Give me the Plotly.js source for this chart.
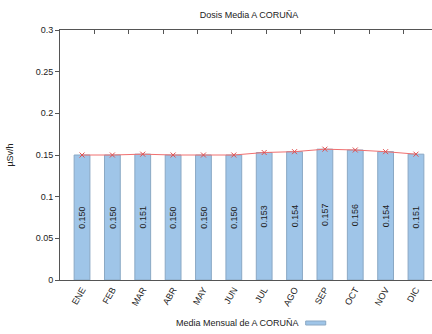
<!DOCTYPE html>
<html>
<head>
<meta charset="utf-8">
<script src="https://cdn.plot.ly/plotly-3.0.1.min.js"></script>
<style>
html,body{margin:0;padding:0;overflow:hidden;background:#fff;}
#chart{width:448px;height:334px;}
</style>
</head>
<body>
<div id="chart"></div>
<script>
var months = ['ENE','FEB','MAR','ABR','MAY','JUN','JUL','AGO','SEP','OCT','NOV','DIC'];
var values = [0.150,0.150,0.151,0.150,0.150,0.150,0.153,0.154,0.157,0.156,0.154,0.151];
var labels = values.map(function(v){return v.toFixed(3);});
var seriesName = 'Media Mensual de A CORUÑA';
var chartTitle = 'Dosis Media A CORUÑA';
var yTitle = 'µSv/h';
var yTicks = [0,0.05,0.1,0.15,0.2,0.25,0.3];
var yTickText = ['0','0.05','0.1','0.15','0.2','0.25','0.3'];

var font = 'Liberation Sans, Arial, sans-serif';

var bars = {
  type:'bar', x:months, y:values, text:labels,
  textposition:'inside', insidetextanchor:'middle', textangle:-90,
  textfont:{family:font, size:10, color:'#222'},
  marker:{color:'#9fc5e8', line:{color:'#8aa8c4', width:1}},
  width:0.52, showlegend:false, hoverinfo:'skip'
};
var line = {
  type:'scatter', mode:'lines+markers', x:months, y:values,
  line:{color:'#f07070', width:1},
  marker:{symbol:'x-thin', size:5, color:'#e05050', line:{color:'#e05050', width:1}},
  showlegend:false, cliponaxis:false
};
var topAxisDummy = {
  type:'scatter', x:months, y:values, xaxis:'x2', yaxis:'y2',
  mode:'none', showlegend:false, hoverinfo:'skip'
};

var layout = {
  width:448, height:334,
  margin:{l:60, r:10, t:30, b:54},
  paper_bgcolor:'#fff', plot_bgcolor:'#fff',
  font:{family:font, size:9, color:'#222'},
  title:{text:chartTitle, x:0.5, xref:'paper', y:0.955, yanchor:'middle', font:{family:font, size:9, color:'#222'}},
  bargap:0.48,
  xaxis:{type:'category', categoryorder:'array', categoryarray:months,
    showline:true, linecolor:'#555', linewidth:1, mirror:false,
    ticks:'', tickangle:-60, tickfont:{family:font, size:9, color:'#222'},
    showgrid:false, zeroline:false},
  xaxis2:{type:'category', categoryorder:'array', categoryarray:months, overlaying:'x', side:'top',
    showline:true, linecolor:'#555', linewidth:1, ticks:'inside', ticklen:4, tickcolor:'#555',
    showticklabels:false, showgrid:false, zeroline:false},
  yaxis:{range:[0,0.3], tickvals:yTicks, ticktext:yTickText,
    showline:true, linecolor:'#555', linewidth:1,
    ticks:'outside', ticklen:4, tickcolor:'#555',
    tickfont:{family:font, size:9, color:'#222'},
    showgrid:false, zeroline:false,
    title:{text:yTitle, font:{family:font, size:9, color:'#222'}, standoff:20}},
  yaxis2:{range:[0,0.3], tickvals:yTicks, overlaying:'y', side:'right',
    showline:true, linecolor:'#555', linewidth:1, ticks:'inside', ticklen:4, tickcolor:'#555',
    showticklabels:false, showgrid:false, zeroline:false},
  annotations:[{xref:'paper', yref:'paper', x:0.637, y:-0.172, xanchor:'right', yanchor:'middle',
    text:seriesName, showarrow:false, font:{family:font, size:9, color:'#222'}}],
  shapes:[{type:'rect', xref:'paper', yref:'paper', x0:0.65, x1:0.703, y0:-0.164, y1:-0.18,
    fillcolor:'#9fc5e8', line:{color:'#8aa8c4', width:1}}]
};

Plotly.newPlot('chart', [bars, line, topAxisDummy], layout, {displayModeBar:false, staticPlot:true});
</script>
</body>
</html>
